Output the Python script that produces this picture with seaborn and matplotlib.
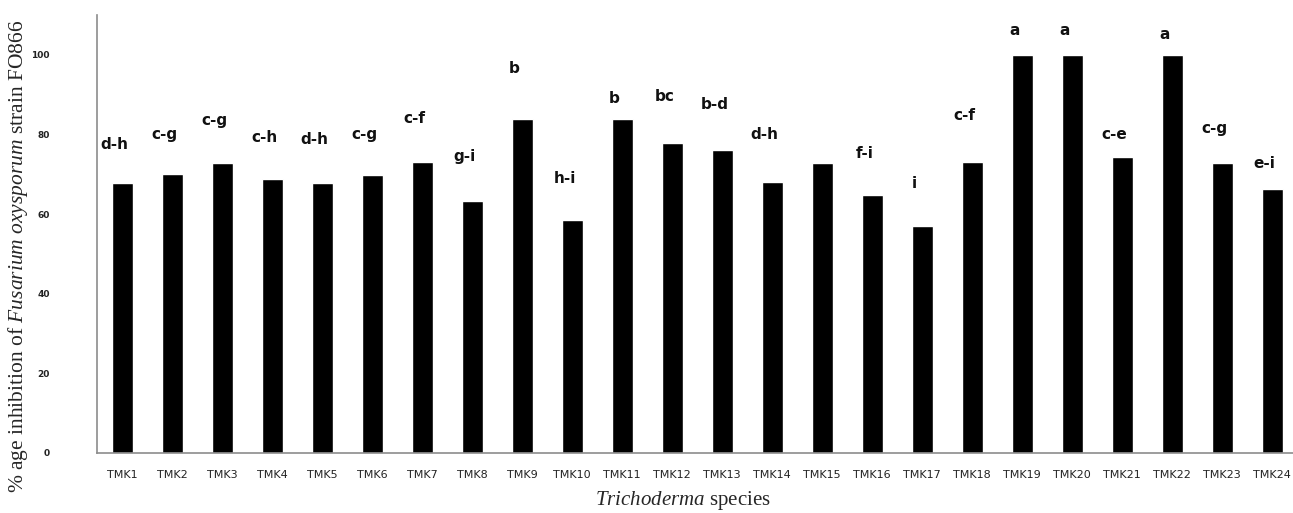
import matplotlib
matplotlib.use('Agg')
import matplotlib.pyplot as plt
import seaborn as sns
import pandas as pd
from matplotlib.ticker import FixedLocator

# Data
species = ['TMK' + str(i) for i in range(1, 25)]
inhibition = [67.8, 70.1, 72.8, 68.7, 67.8, 69.8, 73.0, 63.4, 84.0, 58.6, 84.0, 77.8,
              76.1, 68.1, 72.8, 64.8, 57.0, 73.0, 100.0, 100.0, 74.4, 100.0, 72.8, 66.3]
letters = ['d-h', 'c-g', 'c-g', 'c-h', 'd-h', 'c-g', 'c-f', 'g-i', 'b', 'h-i', 'b', 'bc',
           'b-d', 'd-h', '', 'f-i', 'i', 'c-f', 'a', 'a', 'c-e', 'a', 'c-g', 'e-i']
# height at which each letter group is written
letter_y = [77.4, 79.9, 83.6, 79.3, 78.7, 79.9, 84.0, 74.4, 96.6, 69.0, 89.0, 89.5,
            87.4, 80.1, 0, 75.3, 67.7, 84.7, 106.0, 106.0, 80.1, 105.2, 81.4, 72.8]

df = pd.DataFrame({'species': species, 'inhibition': inhibition})

sns.set_style('white')
plt.rcParams['font.family'] = ['DejaVu Sans']
plt.rcParams['mathtext.fontset'] = 'custom'
plt.rcParams['mathtext.it'] = 'Liberation Serif:italic'
plt.rcParams['mathtext.rm'] = 'Liberation Serif'

fig = plt.figure(figsize=(12.93, 5.13), dpi=100)
ax = fig.add_axes([97 / 1293, 1 - 453 / 513, 1200 / 1293, 438 / 513])

sns.barplot(data=df, x='species', y='inhibition', color='black', saturation=1,
            width=0.42, ax=ax)

for i, (lab, ly) in enumerate(zip(letters, letter_y)):
    if lab:
        ax.text(i - 0.15, ly, lab, ha='center', va='center', fontsize=11,
                fontweight='bold', color='#111111')

ax.set_xlim(-0.5, len(species) - 0.5)
ax.set_ylim(0, 110)
ax.yaxis.set_major_locator(FixedLocator([0, 20, 40, 60, 80, 100]))
ax.xaxis.set_minor_locator(FixedLocator([i - 0.5 for i in range(len(species) + 1)]))

for s in ['top', 'right']:
    ax.spines[s].set_visible(False)
for s in ['left', 'bottom']:
    ax.spines[s].set_color('#8c8c8c')
    ax.spines[s].set_linewidth(1.2)

ax.tick_params(axis='x', which='major', length=0, pad=12, labelsize=8,
               labelcolor='#222222')
ax.tick_params(axis='x', which='minor', direction='out', length=4, color='#8c8c8c')
ax.tick_params(axis='y', direction='inout', length=8, color='#8c8c8c', pad=30,
               labelsize=6.5, labelcolor='#222222')
for t in ax.get_yticklabels():
    t.set_fontweight('bold')

serif = ['Liberation Serif']
ax.set_xlabel(r'$\it{Trichoderma}$ species', fontsize=15, family=serif)
ax.xaxis.set_label_coords(0.488, -0.083)
ax.set_ylabel('% age inhibition of $\\it{Fusarium\\ oxysporum}$ strain FO866',
              fontsize=15.5, family=serif)
ax.yaxis.set_label_coords(-0.056, 0.45)

fig.savefig('out.png', dpi=100)
